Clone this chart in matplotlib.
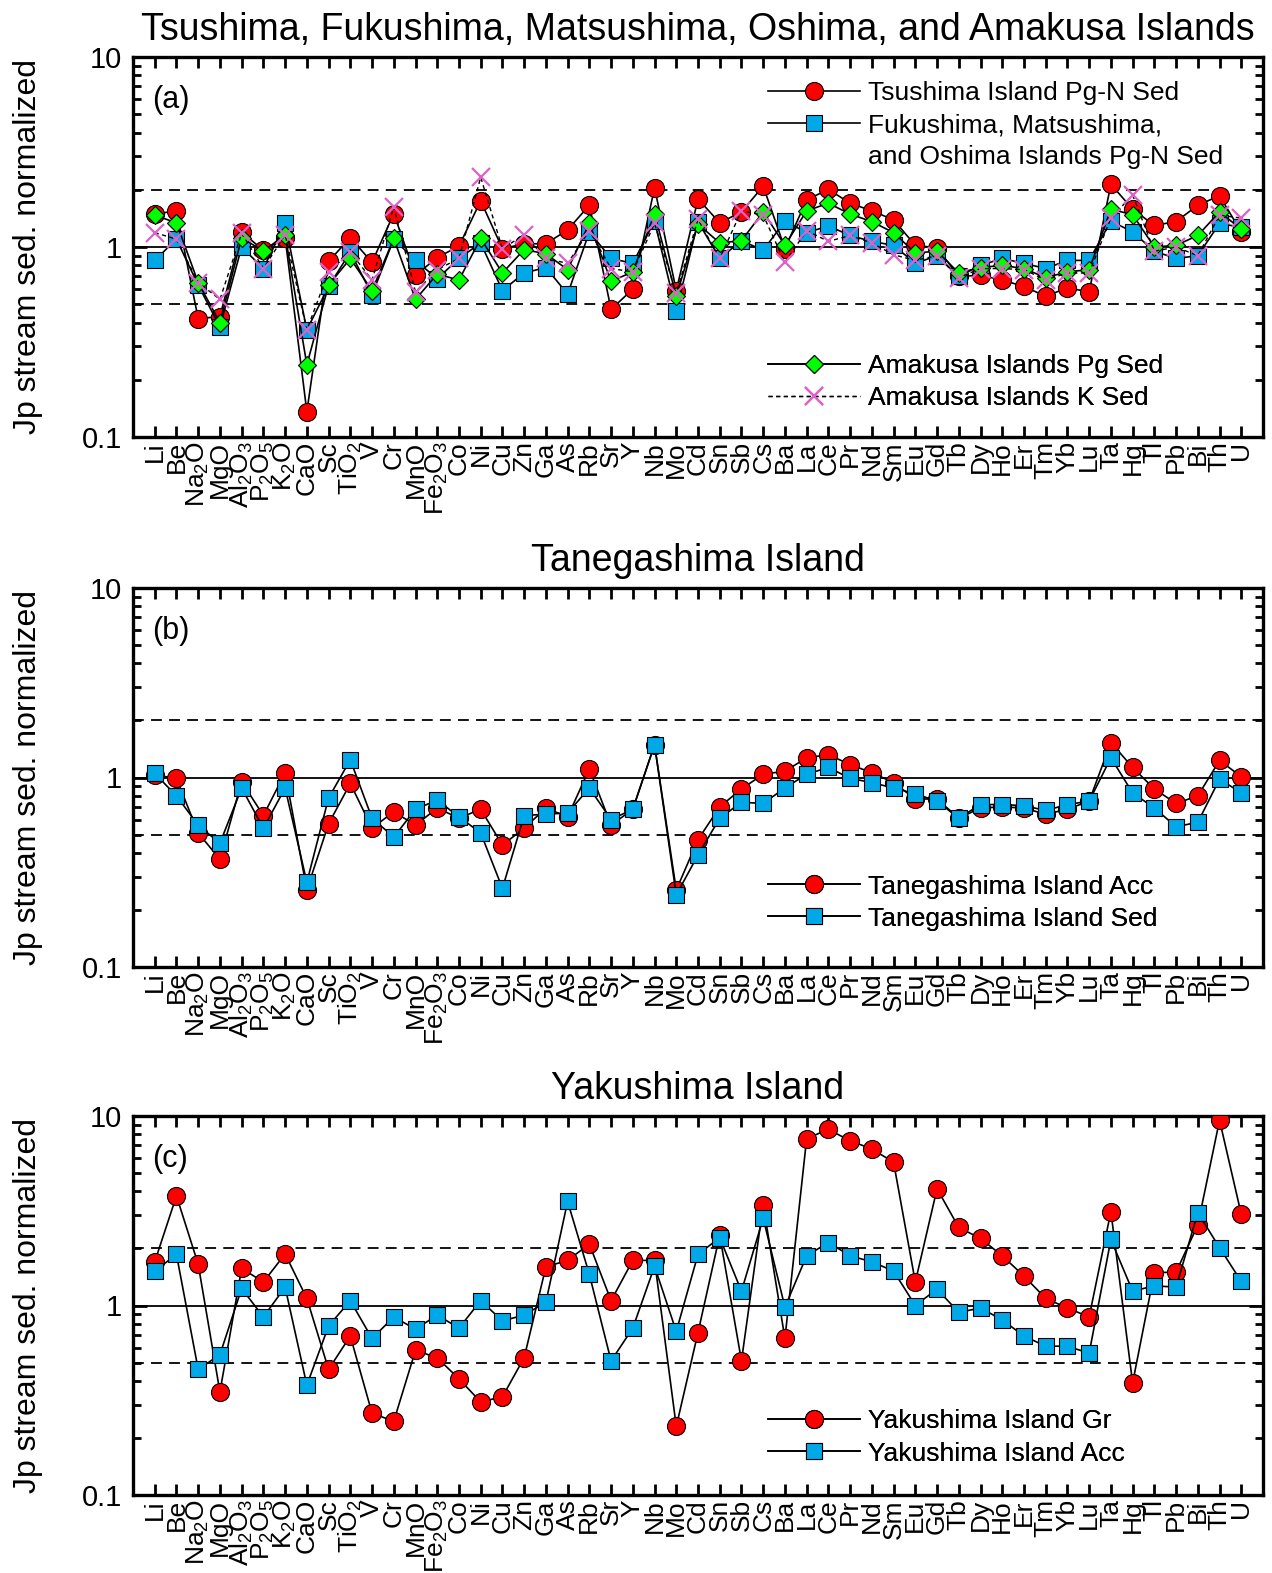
import matplotlib
matplotlib.use("Agg")
import matplotlib.pyplot as plt
from matplotlib.lines import Line2D
from matplotlib.ticker import LogLocator, NullFormatter, FixedLocator
import numpy as np

plt.rcParams['font.family'] = ['Liberation Sans', 'DejaVu Sans']
plt.rcParams['mathtext.default'] = 'regular'

elements = ["Li", "Be", "Na$_2$O", "MgO", "Al$_2$O$_3$", "P$_2$O$_5$", "K$_2$O", "CaO", "Sc", "TiO$_2$",
            "V", "Cr", "MnO", "Fe$_2$O$_3$", "Co", "Ni", "Cu", "Zn", "Ga", "As", "Rb", "Sr", "Y", "Nb",
            "Mo", "Cd", "Sn", "Sb", "Cs", "Ba", "La", "Ce", "Pr", "Nd", "Sm", "Eu", "Gd", "Tb", "Dy",
            "Ho", "Er", "Tm", "Yb", "Lu", "Ta", "Hg", "Tl", "Pb", "Bi", "Th", "U"]

# (a)
tsushima = [1.49, 1.55, 0.42, 0.43, 1.20, 0.96, 1.12, 0.136, 0.84, 1.12, 0.83, 1.50, 0.71, 0.88, 1.01,
            1.75, 0.98, 1.04, 1.04, 1.23, 1.66, 0.47, 0.60, 2.05, 0.59, 1.79, 1.34, 1.53, 2.09, 0.98,
            1.77, 2.01, 1.70, 1.55, 1.39, 1.02, 0.99, 0.70, 0.71, 0.67, 0.62, 0.55, 0.61, 0.58, 2.14,
            1.58, 1.30, 1.36, 1.66, 1.86, 1.20]
fukushima = [0.85, 1.10, 0.63, 0.38, 1.00, 0.77, 1.33, 0.366, 0.62, 0.94, 0.56, 1.10, 0.85, 0.68, 0.87,
             1.05, 0.59, 0.73, 0.78, 0.565, 1.20, 0.87, 0.82, 1.37, 0.46, 1.36, 0.87, 1.08, 0.96, 1.37,
             1.19, 1.29, 1.15, 1.07, 1.02, 0.82, 0.90, 0.70, 0.80, 0.87, 0.82, 0.77, 0.85, 0.85, 1.37,
             1.20, 0.95, 0.87, 0.90, 1.33, 1.27]
amakusa_pg = [1.47, 1.34, 0.65, 0.40, 1.12, 0.95, 1.16, 0.24, 0.63, 0.87, 0.59, 1.11, 0.53, 0.72, 0.67,
              1.11, 0.73, 0.97, 0.92, 0.76, 1.33, 0.66, 0.74, 1.50, 0.55, 1.32, 1.05, 1.08, 1.53, 1.02,
              1.55, 1.70, 1.49, 1.36, 1.19, 0.93, 0.95, 0.73, 0.78, 0.80, 0.77, 0.69, 0.74, 0.76, 1.58,
              1.48, 1.00, 1.02, 1.15, 1.53, 1.24]
amakusa_k = [1.19, 1.10, 0.65, 0.53, 1.18, 0.77, 1.16, 0.366, 0.74, 0.94, 0.67, 1.63, 0.58, 0.76, 0.87,
             2.33, 0.98, 1.16, 0.87, 0.82, 1.22, 0.77, 0.74, 1.33, 0.57, 1.40, 0.87, 1.55, 1.47, 0.83,
             1.22, 1.07, 1.15, 1.05, 0.91, 0.85, 0.90, 0.69, 0.77, 0.77, 0.76, 0.67, 0.73, 0.73, 1.42,
             1.88, 0.95, 1.00, 0.90, 1.47, 1.42]

# (b)
tane_acc = [1.03, 0.99, 0.51, 0.37, 0.95, 0.63, 1.06, 0.255, 0.57, 0.93, 0.54, 0.66, 0.56, 0.69, 0.61,
            0.68, 0.44, 0.54, 0.69, 0.62, 1.11, 0.56, 0.68, 1.49, 0.255, 0.47, 0.70, 0.87, 1.04, 1.08,
            1.27, 1.32, 1.17, 1.06, 0.94, 0.77, 0.77, 0.61, 0.69, 0.70, 0.69, 0.64, 0.68, 0.75, 1.53,
            1.13, 0.87, 0.73, 0.80, 1.23, 1.01]
tane_sed = [1.05, 0.80, 0.56, 0.45, 0.88, 0.54, 0.88, 0.28, 0.78, 1.24, 0.61, 0.485, 0.68, 0.76, 0.62,
            0.51, 0.26, 0.63, 0.64, 0.65, 0.88, 0.60, 0.68, 1.49, 0.24, 0.39, 0.61, 0.74, 0.73, 0.88,
            1.04, 1.13, 0.99, 0.94, 0.88, 0.82, 0.75, 0.61, 0.72, 0.72, 0.71, 0.67, 0.72, 0.75, 1.27,
            0.83, 0.69, 0.55, 0.58, 0.98, 0.83]

# (c)
yaku_gr = [1.70, 3.79, 1.65, 0.35, 1.57, 1.33, 1.87, 1.09, 0.46, 0.69, 0.27, 0.245, 0.58, 0.53, 0.41,
           0.31, 0.33, 0.53, 1.60, 1.73, 2.11, 1.06, 1.73, 1.73, 0.23, 0.72, 2.35, 0.51, 3.40, 0.67,
           7.6, 8.5, 7.4, 6.7, 5.7, 1.33, 4.13, 2.58, 2.26, 1.83, 1.43, 1.09, 0.97, 0.87, 3.13,
           0.39, 1.49, 1.50, 2.66, 9.5, 3.03]
yaku_acc = [1.52, 1.86, 0.46, 0.55, 1.23, 0.87, 1.25, 0.38, 0.78, 1.06, 0.67, 0.87, 0.75, 0.89, 0.76,
            1.06, 0.83, 0.89, 1.04, 3.54, 1.46, 0.51, 0.76, 1.61, 0.73, 1.86, 2.28, 1.19, 2.89, 0.98,
            1.83, 2.15, 1.83, 1.70, 1.52, 1.00, 1.22, 0.92, 0.97, 0.84, 0.69, 0.61, 0.61, 0.56, 2.23,
            1.19, 1.27, 1.25, 3.09, 2.02, 1.34]

RED = '#ff0000'
BLUE = '#00a8e8'
GREEN = '#00ff00'
PINK = '#e060c8'

x = np.arange(len(elements))

circle = dict(marker='o', ms=13, mfc=RED, mec='black', mew=0.8, color='black', lw=1.2)
square = dict(marker='s', ms=12, mfc=BLUE, mec='black', mew=0.8, color='black', lw=1.2)
diamond = dict(marker='D', ms=9, mfc=GREEN, mec='black', mew=0.8, color='black', lw=1.2)
cross = dict(marker='x', ms=13, mec=PINK, mew=1.6, color='black', lw=1.0, ls=(0, (3, 2.5)))


def style_axes(ax, title, tag):
    ax.set_yscale('log')
    ax.set_ylim(0.1, 10)
    ax.set_xlim(-1, len(elements))
    ax.axhline(1, color='black', lw=1.3, zorder=1)
    for v in (2, 0.5):
        ax.axhline(v, color='black', lw=1.3, ls=(0, (6, 4)), zorder=1)
    ax.xaxis.set_major_locator(FixedLocator(x))
    ax.set_xticklabels(elements, rotation=90, fontsize=19)
    ax.yaxis.set_major_locator(FixedLocator([0.1, 1, 10]))
    ax.set_yticklabels(['0.1', '1', '10'], fontsize=21)
    ax.yaxis.set_minor_locator(LogLocator(base=10, subs=np.arange(2, 10)))
    ax.yaxis.set_minor_formatter(NullFormatter())
    ax.tick_params(axis='x', which='major', direction='in', length=8, width=2, top=True, pad=3)
    ax.tick_params(axis='y', which='major', direction='in', length=10, width=2, right=True, pad=8)
    ax.tick_params(axis='y', which='minor', direction='in', length=6, width=2, right=True)
    for s in ax.spines.values():
        s.set_linewidth(2.4)
    ax.set_ylabel('Jp stream sed. normalized', fontsize=23)
    ax.yaxis.set_label_coords(-0.08, 0.5)
    ax.set_title(title, fontsize=27, pad=12)
    ax.text(0.017, 0.865, tag, transform=ax.transAxes, fontsize=22)


def add_legend(ax, handles, labels, y):
    leg = ax.legend(handles, labels, loc='upper left', bbox_to_anchor=(0.562, y), frameon=False,
                    fontsize=19, handlelength=3.5, handletextpad=0.3, labelspacing=0.31,
                    borderpad=0, borderaxespad=0)
    ax.add_artist(leg)


fig = plt.figure(figsize=(12.72, 15.73), dpi=100)
W, H = 1272, 1573
def axes_at(top, bottom, left=133, right=1263):
    return fig.add_axes([left / W, 1 - bottom / H, (right - left) / W, (bottom - top) / H])

# panel (a)
ax1 = axes_at(57, 437)
ax1.plot(x, tsushima, zorder=3, **circle)
ax1.plot(x, fukushima, zorder=4, **square)
ax1.plot(x, amakusa_pg, zorder=5, **diamond)
ax1.plot(x, amakusa_k, zorder=6, **cross)
style_axes(ax1, 'Tsushima, Fukushima, Matsushima, Oshima, and Amakusa Islands', '(a)')
blank = Line2D([], [], ls='none')
add_legend(ax1, [Line2D([], [], **circle), Line2D([], [], **square), blank],
           ['Tsushima Island Pg-N Sed', 'Fukushima, Matsushima,', 'and Oshima Islands Pg-N Sed'], 0.937)
add_legend(ax1, [Line2D([], [], **diamond), Line2D([], [], **cross)],
           ['Amakusa Islands Pg Sed', 'Amakusa Islands K Sed'], 0.219)

# panel (b)
ax2 = axes_at(588, 967)
ax2.plot(x, tane_acc, zorder=3, **circle)
ax2.plot(x, tane_sed, zorder=4, **square)
style_axes(ax2, 'Tanegashima Island', '(b)')
add_legend(ax2, [Line2D([], [], **circle), Line2D([], [], **square)],
           ['Tanegashima Island Acc', 'Tanegashima Island Sed'], 0.244)

# panel (c)
ax3 = axes_at(1116, 1495)
ax3.plot(x, yaku_gr, zorder=3, **circle)
ax3.plot(x, yaku_acc, zorder=4, **square)
style_axes(ax3, 'Yakushima Island', '(c)')
add_legend(ax3, [Line2D([], [], **circle), Line2D([], [], **square)],
           ['Yakushima Island Gr', 'Yakushima Island Acc'], 0.226)

fig.savefig('out.png', dpi=100)
